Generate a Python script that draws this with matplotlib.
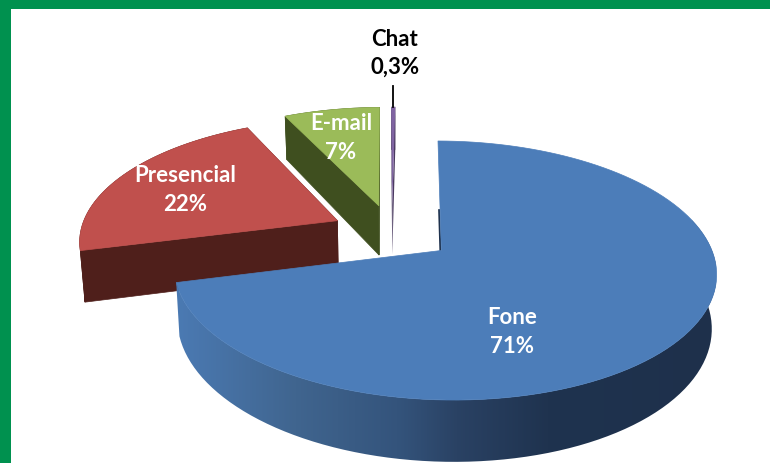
import numpy as np
import matplotlib
matplotlib.use('Agg')
import matplotlib.pyplot as plt
from matplotlib.colors import LinearSegmentedColormap
from matplotlib.patches import Polygon, Rectangle

# data
categories = ['Fone', 'Presencial', 'E-mail', 'Chat']
shares = [71, 22, 7, 0.3]
share_labels = ['71%', '22%', '7%', '0,3%']

top_colors = ['#4c7db9', '#c0504d', '#9bbb59', '#8064a2']
wall_colors = ['#1f324d', '#4f1f1b', '#3f4f1f', '#4a3a60']

# projection of the exploded pie (pixels)
cx, cy = 392, 233.5
rx, ry = 261, 120.7
persp_y, persp_x = 0.151, -0.01
depth = 51
shrink = 0.985
explode = 0.235
rotation = np.radians(0.8)


def project(X, Y, low=False):
    den = 1 + persp_y * Y + persp_x * X
    px = rx * X / den
    py = -ry * Y / den
    if low:
        return cx + px * shrink, cy + py + depth / den
    return cx + px, cy + py


def slice_outline(a0, a1, n=120):
    mid = (a0 + a1) / 2
    ox = explode * np.sin(mid)
    oy = explode * np.cos(mid)
    t = np.linspace(a0, a1, n)
    return ox, oy, ox + np.sin(t), oy + np.cos(t)


fig = plt.figure(figsize=(7.7, 4.64), dpi=100)
ax = fig.add_axes([0, 0, 1, 1])
ax.set_xlim(0, 770)
ax.set_ylim(464, 0)
ax.axis('off')

fracs = np.array(shares) / sum(shares)
ends = np.cumsum(fracs) * 2 * np.pi + rotation
starts = ends - fracs * 2 * np.pi

# blue wall shading, left to right
wall_cmap = LinearSegmentedColormap.from_list('wall', [
    (0.0, '#4b7ab3'), (0.22, '#40658f'), (0.41, '#34547c'),
    (0.52, '#2a4264'), (0.69, '#1f334f'), (1.0, '#1e304b')])

# back to front
for i in [3, 2, 1, 0]:
    ox, oy, X, Y = slice_outline(starts[i], ends[i])
    tx, ty = project(X, Y)
    bx, by = project(X, Y, low=True)
    ax0, ay0 = project(ox, oy)
    bx0, by0 = project(ox, oy, low=True)
    edge = 'none' if i == 3 else wall_colors[i]

    if i == 0:
        # big slice: only the curved front wall shows, with a left to right shade
        front = Y < oy + 0.25
        arc = np.column_stack([np.r_[tx[front], bx[front][::-1]],
                               np.r_[ty[front], by[front][::-1]]])
        clip = Polygon(arc, closed=True, fc='none', ec='none')
        ax.add_patch(clip)
        grad = np.linspace(0, 1, 256).reshape(1, -1)
        im = ax.imshow(grad, cmap=wall_cmap, extent=[176, 716, 464, 200],
                       aspect='auto', zorder=1)
        im.set_clip_path(clip)
    else:
        # straight walls
        for j in [0, -1]:
            ax.add_patch(Polygon([(ax0, ay0), (tx[j], ty[j]), (bx[j], by[j]), (bx0, by0)],
                                 closed=True, fc=wall_colors[i], ec=edge, lw=0.5))
        # curved wall
        arc = np.column_stack([np.r_[tx, bx[::-1]], np.r_[ty, by[::-1]]])
        ax.add_patch(Polygon(arc, closed=True, fc=wall_colors[i], ec=edge, lw=0.5))

    # top face
    face = np.column_stack([np.r_[ax0, tx], np.r_[ay0, ty]])
    ax.add_patch(Polygon(face, closed=True, fc=top_colors[i],
                         ec='none' if i == 3 else top_colors[i],
                         lw=0.5, zorder=1.5 + (3 - i) * 0.1))

    # dark edge next to the cut of the big slice
    if i == 0:
        ex = np.linspace(ax0, tx[0], 20)[:8] - 1
        ey = np.linspace(ay0, ty[0], 20)[:8]
        ax.plot(ex, ey, color=wall_colors[0], lw=1.4, zorder=1.2)

# leader line of the thin slice
_, _, X, Y = slice_outline(starts[3], ends[3])
lx, ly = project(X[60], Y[60])
ax.plot([lx, lx], [87, ly], color='black', lw=1.3, zorder=3)

# labels
label_x = [512, 185, 341, 395]
label_y = [318, 176, 124, 39]
label_colors = ['white', 'white', 'white', 'black']
for i in range(4):
    for k, txt in enumerate([categories[i], share_labels[i]]):
        ax.text(label_x[i], label_y[i] + k * 28.5, txt, color=label_colors[i],
                family='Lato', weight='bold', fontsize=16,
                ha='center', va='center', zorder=5)

# green frame
ax.add_patch(Rectangle((0, 0), 770, 10, fc='#00914f', ec='none', zorder=6))
ax.add_patch(Rectangle((0, 0), 10.5, 464, fc='#00914f', ec='none', zorder=6))

fig.savefig('out.png', dpi=100)
